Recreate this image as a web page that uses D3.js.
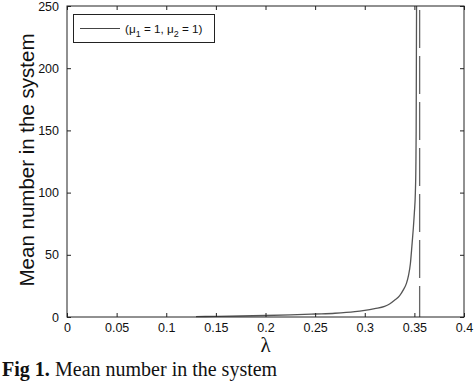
<!DOCTYPE html>
<html><head><meta charset="utf-8">
<script src="https://cdn.jsdelivr.net/npm/d3@7/dist/d3.min.js"></script>
<style>body{margin:0;background:#fff;} svg{display:block;}</style>
</head><body>
<svg id="c" width="474" height="381"></svg>
<script>
const lambda = [0.13,0.15,0.175,0.2,0.225,0.25,0.27,0.29,0.30,0.31,0.32,0.325,0.33,0.335,0.339,0.342,0.344,0.346,0.3475,0.349,0.350,0.351,0.3515,0.3518,0.352,0.3522];
const meanNumber = [0.3,0.5,0.8,1.2,1.7,2.4,3.0,4.3,5.4,6.8,8.5,10.5,13.5,17,22,27,33,43,57,72,84,100,120,150,200,250];
const asymptote = 0.3553;
const xTicks = [0,0.05,0.1,0.15,0.2,0.25,0.3,0.35,0.4];
const yTicks = [0,50,100,150,200,250];
const legendLabel = ["(μ", "1", " = 1, μ", "2", " = 1)"];

const svg = d3.select("#c");
const L=67,R=464,T=6,B=317;
const x = d3.scaleLinear().domain([0,0.4]).range([L,R]);
const y = d3.scaleLinear().domain([0,250]).range([B,T]);
const axisCol="#222";
const fmt = d => d===0?"0":String(d);

// curve
svg.append("path").datum(lambda.map((l,i)=>[l,meanNumber[i]]))
  .attr("d", d3.line().curve(d3.curveMonotoneX).x(d=>x(d[0])).y(d=>y(d[1])))
  .attr("fill","none").attr("stroke","#555").attr("stroke-width",1.3);
// dashed asymptote
svg.append("line").attr("x1",x(asymptote)).attr("x2",x(asymptote)).attr("y1",y(250)).attr("y2",y(0))
  .attr("stroke","#666").attr("stroke-width",1.3).attr("stroke-dasharray","38,8").attr("stroke-dashoffset",-4);

// axes
const ax = (g,a)=>{g.call(a); g.select(".domain").remove(); g.selectAll("line").attr("stroke",axisCol);};
const bottom = svg.append("g").attr("transform",`translate(0,${B})`)
 .call(g=>ax(g,d3.axisBottom(x).tickValues(xTicks).tickFormat(fmt).tickSizeInner(-4).tickSizeOuter(0).tickPadding(6)));
bottom.selectAll("text").attr("font-family","Liberation Sans, Arial").attr("font-size",12.5).attr("fill","#111");
const left = svg.append("g").attr("transform",`translate(${L},0)`)
 .call(g=>ax(g,d3.axisLeft(y).tickValues(yTicks).tickFormat(fmt).tickSizeInner(-4).tickSizeOuter(0).tickPadding(8)));
left.selectAll("text").attr("font-family","Liberation Sans, Arial").attr("font-size",12.5).attr("fill","#111");
svg.append("g").attr("transform",`translate(0,${T})`)
 .call(g=>ax(g,d3.axisTop(x).tickValues(xTicks).tickFormat("").tickSizeInner(-4).tickSizeOuter(0)));
svg.append("g").attr("transform",`translate(${R},0)`)
 .call(g=>ax(g,d3.axisRight(y).tickValues(yTicks).tickFormat("").tickSizeInner(-4).tickSizeOuter(0)));
svg.append("rect").attr("x",L).attr("y",T).attr("width",R-L).attr("height",B-T)
  .attr("fill","none").attr("stroke",axisCol).attr("stroke-width",1);

// legend
svg.append("rect").attr("x",73.5).attr("y",14.5).attr("width",141).attr("height",28)
  .attr("fill","#fff").attr("stroke",axisCol);
svg.append("line").attr("x1",80).attr("x2",120).attr("y1",28.5).attr("y2",28.5).attr("stroke","#444");
const lt = svg.append("text").attr("x",125).attr("y",32.5).attr("font-family","Liberation Sans, Arial").attr("font-size",11.7).attr("fill","#111");
legendLabel.forEach((s,i)=>{
  const sub = i%2===1;
  lt.append("tspan").text(s).attr("font-size",sub?9:11.7).attr("dy", sub?4:(i>0?-4:0));
});

// axis labels
svg.append("text").attr("transform","translate(34,160) rotate(-90)").attr("text-anchor","middle")
  .attr("font-family","Liberation Sans, Arial").attr("font-size",20.5).attr("fill","#111")
  .text("Mean number in the system");
svg.append("text").attr("x",x(0.2)).attr("y",352).attr("text-anchor","middle")
  .attr("font-family","Liberation Serif, Times New Roman").attr("font-size",21).attr("fill","#111").text("λ");

// caption
const cap = svg.append("text").attr("x",2).attr("y",375.5).attr("font-family","Liberation Serif, Times New Roman").attr("font-size",20).attr("fill","#111");
cap.append("tspan").attr("font-weight","bold").text("Fig 1.");
cap.append("tspan").attr("x",55).text("Mean number in the system");
</script>
</body></html>
